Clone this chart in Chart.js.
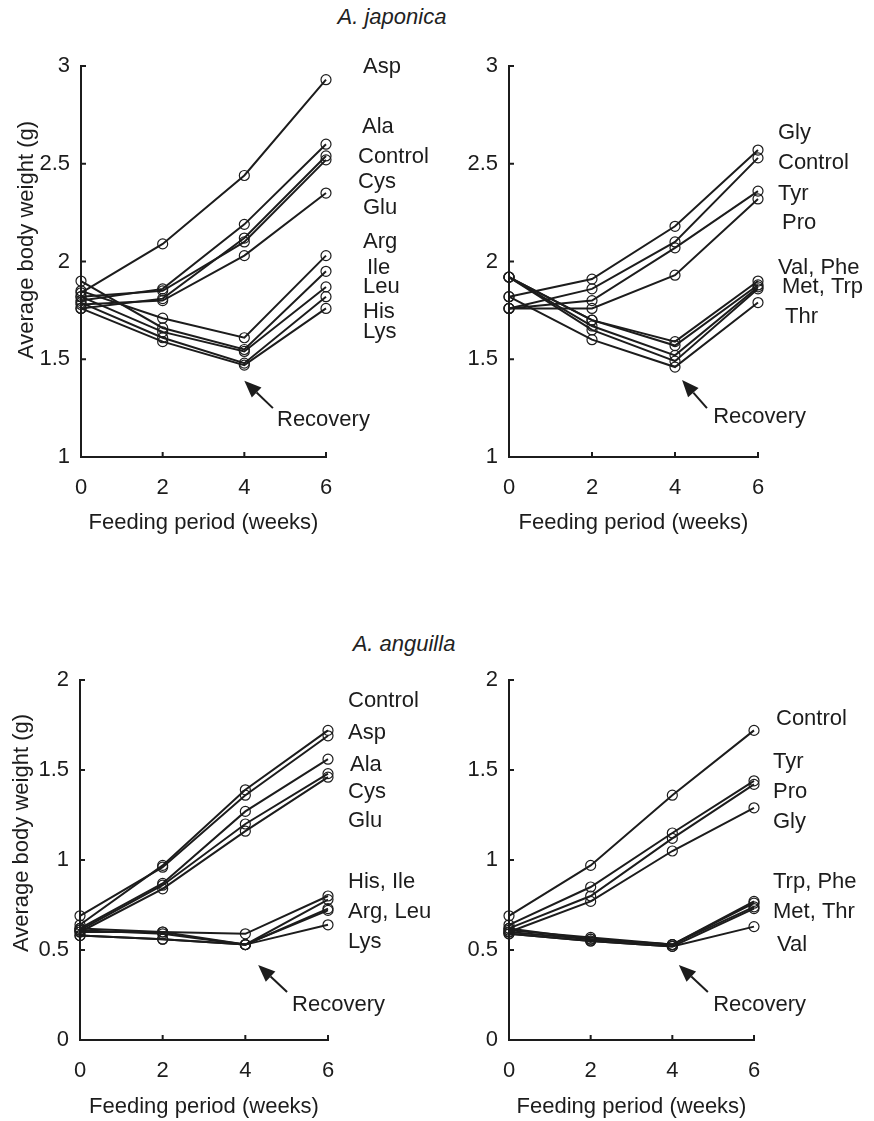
<!DOCTYPE html>
<html>
<head>
<meta charset="utf-8">
<title>Body weight of eels</title>
<script src="https://cdn.jsdelivr.net/npm/chart.js@4.4.1/dist/chart.umd.min.js"></script>
<style>
  body { margin: 0; background: #fff; }
  #wrap { position: relative; width: 874px; height: 1121px; font-family: "Liberation Sans", Arial, sans-serif; color: #222; }
  canvas { position: absolute; }
  .species { position: absolute; font-style: italic; font-size: 22px; transform: translate(-50%, -50%); white-space: nowrap; }
</style>
</head>
<body>
<div id="wrap">
  <div class="species" style="left:392px; top:17px;">A. japonica</div>
  <div class="species" style="left:404px; top:644px;">A. anguilla</div>
  <canvas id="jpLeft" width="437" height="560" style="left:0; top:0;"></canvas>
  <canvas id="jpRight" width="437" height="560" style="left:437px; top:0;"></canvas>
  <canvas id="anLeft" width="437" height="521" style="left:0; top:600px;"></canvas>
  <canvas id="anRight" width="437" height="521" style="left:437px; top:600px;"></canvas>
</div>
<script>
// Feeding period (weeks)
const weeks = [0, 2, 4, 6];

// A. japonica, left panel
const jpLeftNames = ['Asp', 'Ala', 'Control', 'Cys', 'Glu', 'Arg', 'Ile', 'Leu', 'His', 'Lys'];
const jpLeftValues = [
    [1.84, 2.09, 2.44, 2.93],
    [1.80, 1.86, 2.19, 2.60],
    [1.76, 1.81, 2.12, 2.54],
    [1.82, 1.85, 2.10, 2.52],
    [1.78, 1.80, 2.03, 2.35],
    [1.85, 1.71, 1.61, 2.03],
    [1.90, 1.66, 1.55, 1.95],
    [1.82, 1.64, 1.54, 1.87],
    [1.79, 1.61, 1.48, 1.82],
    [1.76, 1.59, 1.47, 1.76]
];

// A. japonica, right panel
const jpRightNames = ['Gly', 'Control', 'Tyr', 'Pro', 'Val', 'Phe', 'Met', 'Trp', 'Thr'];
const jpRightValues = [
    [1.82, 1.91, 2.18, 2.57],
    [1.76, 1.86, 2.10, 2.53],
    [1.76, 1.80, 2.07, 2.36],
    [1.76, 1.76, 1.93, 2.32],
    [1.92, 1.70, 1.59, 1.90],
    [1.92, 1.70, 1.57, 1.88],
    [1.92, 1.67, 1.52, 1.87],
    [1.92, 1.65, 1.49, 1.86],
    [1.82, 1.60, 1.46, 1.79]
];

// A. anguilla, left panel
const anLeftNames = ['Control', 'Asp', 'Ala', 'Cys', 'Glu', 'His', 'Ile', 'Arg', 'Leu', 'Lys'];
const anLeftValues = [
    [0.64, 0.97, 1.39, 1.72],
    [0.69, 0.96, 1.36, 1.69],
    [0.62, 0.87, 1.27, 1.56],
    [0.61, 0.86, 1.20, 1.48],
    [0.60, 0.84, 1.16, 1.46],
    [0.62, 0.60, 0.59, 0.80],
    [0.60, 0.60, 0.53, 0.78],
    [0.61, 0.59, 0.53, 0.73],
    [0.58, 0.56, 0.53, 0.72],
    [0.58, 0.56, 0.53, 0.64]
];

// A. anguilla, right panel
const anRightNames = ['Control', 'Tyr', 'Pro', 'Gly', 'Trp', 'Phe', 'Met', 'Thr', 'Val'];
const anRightValues = [
    [0.69, 0.97, 1.36, 1.72],
    [0.64, 0.85, 1.15, 1.44],
    [0.62, 0.80, 1.12, 1.42],
    [0.60, 0.77, 1.05, 1.29],
    [0.62, 0.56, 0.53, 0.77],
    [0.61, 0.57, 0.53, 0.76],
    [0.60, 0.56, 0.53, 0.74],
    [0.59, 0.55, 0.52, 0.73],
    [0.59, 0.55, 0.52, 0.63]
];

const ink = '#1c1c1c';
const font = '"Liberation Sans", Arial, sans-serif';

// draws inward tick marks, end-of-line labels, the recovery arrow and the y title
const decor = {
    id: 'decor',
    afterDraw(chart, args, opts) {
        const { ctx } = chart;
        const x = chart.scales.x, y = chart.scales.y;
        ctx.save();
        ctx.strokeStyle = ink;
        ctx.fillStyle = ink;
        ctx.lineWidth = 2;
        ctx.beginPath();
        y.ticks.forEach(t => {
            const py = y.getPixelForValue(t.value);
            ctx.moveTo(x.left, py);
            ctx.lineTo(x.left + 5, py);
        });
        x.ticks.forEach(t => {
            const px = x.getPixelForValue(t.value);
            ctx.moveTo(px, y.bottom);
            ctx.lineTo(px, y.bottom - 5);
        });
        ctx.stroke();

        ctx.font = '22px ' + font;
        ctx.textBaseline = 'middle';
        ctx.textAlign = 'left';
        const xEnd = x.getPixelForValue(6);
        opts.labels.forEach(l => ctx.fillText(l[0], xEnd + l[1], y.getPixelForValue(l[2])));

        // arrow
        const a = opts.arrow;
        const tx = x.getPixelForValue(a.tip[0]), ty = y.getPixelForValue(a.tip[1]);
        const sx = x.getPixelForValue(a.tail[0]), sy = y.getPixelForValue(a.tail[1]);
        const ang = Math.atan2(ty - sy, tx - sx);
        const head = 17, half = 7;
        const bx = tx - head * Math.cos(ang), by = ty - head * Math.sin(ang);
        ctx.beginPath();
        ctx.moveTo(sx, sy);
        ctx.lineTo(bx, by);
        ctx.stroke();
        ctx.beginPath();
        ctx.moveTo(tx, ty);
        ctx.lineTo(bx + half * Math.sin(ang), by - half * Math.cos(ang));
        ctx.lineTo(bx - half * Math.sin(ang), by + half * Math.cos(ang));
        ctx.closePath();
        ctx.fill();
        ctx.fillText('Recovery', x.getPixelForValue(a.text[0]), y.getPixelForValue(a.text[1]));

        if (opts.yTitle) {
            ctx.translate(opts.yTitle[1], opts.yTitle[2]);
            ctx.rotate(-Math.PI / 2);
            ctx.textAlign = 'center';
            ctx.fillText(opts.yTitle[0], 0, 0);
        }
        ctx.restore();
    }
};

function makePanel(id, names, values, yMin, yMax, lay, labels, arrow, yTitle) {
    const datasets = names.map((n, i) => ({
        label: n,
        data: weeks.map((w, k) => ({ x: w, y: values[i][k] })),
        borderColor: ink,
        borderWidth: 2,
        pointRadius: 5,
        pointBorderWidth: 1.2,
        pointBorderColor: ink,
        pointBackgroundColor: 'rgba(0,0,0,0)',
        tension: 0,
        clip: false
    }));
    new Chart(document.getElementById(id), {
        type: 'line',
        data: { datasets },
        options: {
            responsive: false,
            animation: false,
            events: [],
            layout: { padding: { left: 0, right: lay.right, top: lay.top, bottom: lay.bottom } },
            plugins: {
                legend: { display: false },
                tooltip: { enabled: false },
                decor: { labels, arrow, yTitle }
            },
            scales: {
                x: {
                    type: 'linear',
                    min: 0, max: 6,
                    grid: { display: false, drawTicks: false },
                    border: { display: true, color: ink, width: 2 },
                    ticks: { stepSize: 2, padding: 18, color: ink, font: { size: 22, family: font } },
                    title: { display: true, text: 'Feeding period (weeks)', color: ink, font: { size: 22, family: font }, padding: { top: 0, bottom: lay.xTitlePad } },
                    afterFit: s => { s.height = 80; }
                },
                y: {
                    min: yMin, max: yMax,
                    grid: { display: false, drawTicks: false },
                    border: { display: true, color: ink, width: 2 },
                    ticks: { stepSize: 0.5, padding: 11, color: ink, font: { size: 22, family: font },
                             callback: v => String(v) },
                    afterFit: s => { s.width = lay.left; }
                }
            }
        },
        plugins: [decor]
    });
}

makePanel('jpLeft', jpLeftNames, jpLeftValues, 1, 3,
    { left: 81, right: 111, top: 66, bottom: 23, xTitlePad: 1 },
    [['Asp', 37, 2.995], ['Ala', 36, 2.688], ['Control', 32, 2.535], ['Cys', 32, 2.407], ['Glu', 37, 2.274],
     ['Arg', 37, 2.10], ['Ile', 41, 1.967], ['Leu', 37, 1.87], ['His', 37, 1.742], ['Lys', 37, 1.64]],
    { tip: [4.0, 1.39], tail: [4.7, 1.25], text: [4.8, 1.19] },
    ['Average body weight (g)', 27, 240]);

makePanel('jpRight', jpRightNames, jpRightValues, 1, 3,
    { left: 72, right: 116, top: 66, bottom: 23, xTitlePad: 1 },
    [['Gly', 20, 2.657], ['Control', 20, 2.504], ['Tyr', 20, 2.345], ['Pro', 24, 2.197],
     ['Val, Phe', 20, 1.967], ['Met, Trp', 24, 1.87], ['Thr', 27, 1.716]],
    { tip: [4.17, 1.394], tail: [4.77, 1.25], text: [4.92, 1.205] },
    null);

makePanel('anLeft', anLeftNames, anLeftValues, 0, 2,
    { left: 80, right: 109, top: 80, bottom: 1, xTitlePad: 0 },
    [['Control', 20, 1.883], ['Asp', 20, 1.706], ['Ala', 22, 1.528], ['Cys', 20, 1.378], ['Glu', 20, 1.217],
     ['His, Ile', 20, 0.878], ['Arg, Leu', 20, 0.711], ['Lys', 20, 0.544]],
    { tip: [4.31, 0.417], tail: [5.01, 0.267], text: [5.13, 0.194] },
    ['Average body weight (g)', 22, 233]);

makePanel('anRight', anRightNames, anRightValues, 0, 2,
    { left: 72, right: 120, top: 80, bottom: 1, xTitlePad: 0 },
    [['Control', 22, 1.783], ['Tyr', 19, 1.544], ['Pro', 19, 1.378], ['Gly', 19, 1.211],
     ['Trp, Phe', 19, 0.878], ['Met, Thr', 19, 0.711], ['Val', 23, 0.528]],
    { tip: [4.16, 0.417], tail: [4.87, 0.267], text: [5.0, 0.194] },
    null);
</script>
</body>
</html>
